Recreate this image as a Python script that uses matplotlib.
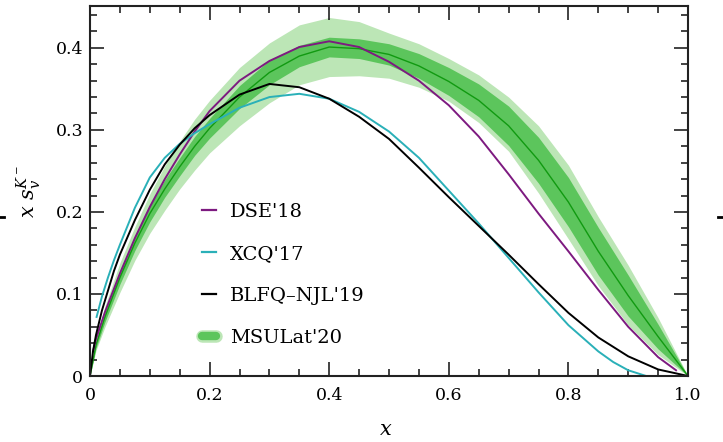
import matplotlib
matplotlib.use("Agg")
import matplotlib.pyplot as plt
from matplotlib.lines import Line2D
from matplotlib.ticker import MultipleLocator, FixedLocator, FixedFormatter

plt.rcParams['font.family'] = ['DejaVu Serif']
plt.rcParams['mathtext.fontset'] = 'dejavuserif'

# MSULat'20 band and central curve
x_lat = [0, 0.01, 0.025, 0.05, 0.075, 0.1, 0.125, 0.15, 0.175, 0.2, 0.25, 0.3, 0.35,
         0.4, 0.45, 0.5, 0.55, 0.6, 0.65, 0.7, 0.75, 0.8, 0.85, 0.9, 0.95, 1.0]
lat_mid = [0, 0.038, 0.072, 0.12, 0.162, 0.198, 0.228, 0.255, 0.28, 0.302, 0.34, 0.37, 0.39,
           0.401, 0.399, 0.392, 0.378, 0.359, 0.336, 0.305, 0.263, 0.212, 0.152, 0.098, 0.048, 0]
lat_dark_hi = [0, 0.042, 0.078, 0.128, 0.171, 0.208, 0.239, 0.266, 0.292, 0.314, 0.354, 0.385, 0.403,
               0.413, 0.411, 0.405, 0.393, 0.376, 0.356, 0.329, 0.291, 0.242, 0.181, 0.123, 0.063, 0]
lat_dark_lo = [0, 0.034, 0.066, 0.112, 0.153, 0.188, 0.218, 0.244, 0.269, 0.29, 0.326, 0.355, 0.377,
               0.389, 0.387, 0.379, 0.363, 0.342, 0.316, 0.281, 0.235, 0.182, 0.123, 0.073, 0.033, 0]
lat_light_hi = [0, 0.046, 0.085, 0.138, 0.182, 0.222, 0.256, 0.286, 0.313, 0.336, 0.376, 0.406, 0.428,
                0.437, 0.432, 0.418, 0.405, 0.387, 0.367, 0.34, 0.305, 0.257, 0.194, 0.135, 0.071, 0]
lat_light_lo = [0, 0.031, 0.06, 0.102, 0.141, 0.174, 0.202, 0.228, 0.251, 0.272, 0.305, 0.333, 0.355,
                0.365, 0.366, 0.363, 0.352, 0.335, 0.309, 0.274, 0.223, 0.167, 0.11, 0.062, 0.026, 0]

# DSE'18
x_dse = [0.005, 0.01, 0.025, 0.05, 0.075, 0.1, 0.125, 0.15, 0.175, 0.2, 0.25, 0.3, 0.35,
         0.4, 0.45, 0.5, 0.55, 0.6, 0.65, 0.7, 0.75, 0.8, 0.85, 0.9, 0.95, 0.98]
y_dse = [0.03, 0.045, 0.078, 0.125, 0.168, 0.206, 0.24, 0.27, 0.298, 0.323, 0.36, 0.384, 0.401,
         0.408, 0.401, 0.383, 0.36, 0.33, 0.292, 0.246, 0.198, 0.152, 0.105, 0.06, 0.023, 0.007]

# XCQ'17
x_xcq = [0.011, 0.02, 0.03, 0.04, 0.05, 0.075, 0.1, 0.125, 0.15, 0.175, 0.2, 0.25, 0.3, 0.35,
         0.4, 0.45, 0.5, 0.55, 0.6, 0.65, 0.7, 0.75, 0.8, 0.85, 0.875, 0.9, 0.93]
y_xcq = [0.072, 0.097, 0.12, 0.141, 0.16, 0.205, 0.242, 0.266, 0.283, 0.296, 0.307, 0.327, 0.34, 0.344,
         0.338, 0.322, 0.298, 0.266, 0.226, 0.186, 0.144, 0.102, 0.062, 0.03, 0.017, 0.007, 0.0]

# BLFQ-NJL'19
x_blfq = [0, 0.005, 0.01, 0.02, 0.03, 0.04, 0.05, 0.075, 0.1, 0.125, 0.15, 0.175, 0.2, 0.25, 0.3,
          0.35, 0.4, 0.45, 0.5, 0.55, 0.6, 0.65, 0.7, 0.75, 0.8, 0.85, 0.9, 0.95, 1.0]
y_blfq = [0, 0.03, 0.05, 0.08, 0.104, 0.128, 0.148, 0.19, 0.227, 0.258, 0.282, 0.302, 0.318, 0.343, 0.356,
          0.352, 0.338, 0.316, 0.289, 0.254, 0.218, 0.183, 0.148, 0.112, 0.077, 0.047, 0.024, 0.008, 0]

xtick_vals = [0, 0.2, 0.4, 0.6, 0.8, 1.0]
xtick_labels = ['0', '0.2', '0.4', '0.6', '0.8', '1.0']
ytick_vals = [0, 0.1, 0.2, 0.3, 0.4]
ytick_labels = ['0', '0.1', '0.2', '0.3', '0.4']

c_light = '#bce6b6'
c_dark = '#5cc55c'
c_mid = '#119a11'
c_dse = '#7d1a80'
c_xcq = '#2ab0b8'

fig = plt.figure(figsize=(7.23, 4.42), dpi=100)
ax = fig.add_axes([0.1245, 0.1493, 0.8271, 0.8371])

ax.fill_between(x_lat, lat_light_lo, lat_light_hi, color=c_light, lw=0)
ax.fill_between(x_lat, lat_dark_lo, lat_dark_hi, color=c_dark, lw=0)
ax.plot(x_lat, lat_mid, color=c_mid, lw=1.0)
ax.plot(x_dse, y_dse, color=c_dse, lw=1.4)
ax.plot(x_xcq, y_xcq, color=c_xcq, lw=1.4)
ax.plot(x_blfq, y_blfq, color='black', lw=1.4)

ax.set_xlim(0, 1.0)
ax.set_ylim(0, 0.451)
ax.xaxis.set_major_locator(FixedLocator(xtick_vals))
ax.xaxis.set_major_formatter(FixedFormatter(xtick_labels))
ax.yaxis.set_major_locator(FixedLocator(ytick_vals))
ax.yaxis.set_major_formatter(FixedFormatter(ytick_labels))
ax.xaxis.set_minor_locator(MultipleLocator(0.05))
ax.yaxis.set_minor_locator(MultipleLocator(0.02))
ax.tick_params(which='both', direction='in', top=True, right=True, width=1.2, color='#222222')
ax.tick_params(which='major', length=10, labelsize=12.5)
ax.tick_params(axis='x', which='major', pad=8)
ax.tick_params(axis='y', which='major', pad=5)
ax.tick_params(which='minor', length=5)
for s in ax.spines.values():
    s.set_linewidth(1.5)
    s.set_color('#222222')

ax.set_xlabel('$x$', fontsize=15)
ax.xaxis.set_label_coords(0.495, -0.118)
ax.set_ylabel(r'$x\ s_v^{K^-}$', fontsize=15)
ax.yaxis.set_label_coords(-0.078, 0.5)

h_dse = Line2D([], [], color=c_dse, lw=1.6)
h_xcq = Line2D([], [], color=c_xcq, lw=1.6)
h_blfq = Line2D([], [], color='black', lw=1.6)
h_lat = (Line2D([], [], color=c_light, lw=9, solid_capstyle='round'),
         Line2D([], [], color=c_dark, lw=6, solid_capstyle='round'))
ax.legend([h_dse, h_xcq, h_blfq, h_lat],
          ["DSE'18", "XCQ'17", "BLFQ–NJL'19", "MSULat'20"],
          loc='upper left', bbox_to_anchor=(0.188, 0.468), frameon=False,
          fontsize=14, handlelength=0.7, handletextpad=0.7, labelspacing=1.24,
          borderpad=0, borderaxespad=0)

# small stray marks at the figure edges
fig.add_artist(Line2D([0, 0.005], [0.508, 0.508], color='black', lw=2))
fig.add_artist(Line2D([0.993, 1.0], [0.508, 0.508], color='black', lw=2))

fig.savefig('out.png', dpi=100)
